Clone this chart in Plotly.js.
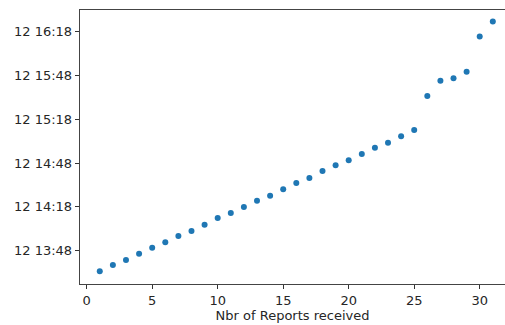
<!DOCTYPE html>
<html>
<head>
<meta charset="utf-8">
<script src="https://cdn.plot.ly/plotly-3.0.1.min.js"></script>
<style>
  html, body { margin: 0; padding: 0; background: #fff; }
  #chart { width: 505px; height: 325px; }
</style>
</head>
<body>
<div id="chart"></div>
<script>
// Report counter and the time each report arrived
const reportCount = [1, 2, 3, 4, 5, 6, 7, 8, 9, 10, 11, 12, 13, 14, 15, 16,
  17, 18, 19, 20, 21, 22, 23, 24, 25, 26, 27, 28, 29, 30, 31];
const receivedAt = [
  "2018-03-12 13:33:54", "2018-03-12 13:38:12", "2018-03-12 13:41:36", "2018-03-12 13:45:54",
  "2018-03-12 13:50:06", "2018-03-12 13:53:48", "2018-03-12 13:58:06", "2018-03-12 14:01:30",
  "2018-03-12 14:05:48", "2018-03-12 14:10:24", "2018-03-12 14:13:48", "2018-03-12 14:17:54",
  "2018-03-12 14:22:12", "2018-03-12 14:25:42", "2018-03-12 14:30:06", "2018-03-12 14:34:24",
  "2018-03-12 14:37:48", "2018-03-12 14:42:36", "2018-03-12 14:46:30", "2018-03-12 14:50:00",
  "2018-03-12 14:54:12", "2018-03-12 14:58:30", "2018-03-12 15:02:00", "2018-03-12 15:06:24",
  "2018-03-12 15:10:42", "2018-03-12 15:34:00", "2018-03-12 15:44:24", "2018-03-12 15:46:06",
  "2018-03-12 15:50:36", "2018-03-12 16:14:48", "2018-03-12 16:25:06"
];
const xTickVals = [0, 5, 10, 15, 20, 25, 30];
const yTickVals = [
  "2018-03-12 13:48", "2018-03-12 14:18", "2018-03-12 14:48",
  "2018-03-12 15:18", "2018-03-12 15:48", "2018-03-12 16:18"
];
const xTitle = "Nbr of Reports received";

const font = { family: "DejaVu Sans, sans-serif", size: 13, color: "#262626" };

const trace = {
  x: reportCount,
  y: receivedAt,
  type: "scatter",
  mode: "markers",
  marker: { color: "#1f77b4", size: 6 },
  hoverinfo: "x+y"
};

const layout = {
  width: 505,
  height: 325,
  margin: { l: 80, r: 0, t: 10, b: 41 },
  paper_bgcolor: "#fff",
  plot_bgcolor: "#fff",
  font: font,
  showlegend: false,
  xaxis: {
    range: [-0.51, 31.93],
    tickvals: xTickVals,
    ticks: "outside",
    ticklen: 4,
    tickwidth: 1,
    tickcolor: "#333",
    showgrid: false,
    zeroline: false,
    showline: true,
    linecolor: "#444",
    linewidth: 1.3,
    mirror: true,
    tickfont: font,
    title: { text: xTitle, font: font, standoff: 4 }
  },
  yaxis: {
    type: "date",
    range: ["2018-03-12 13:25:12", "2018-03-12 16:32:54"],
    tickvals: yTickVals,
    tickformat: "%d %H:%M",
    ticks: "outside",
    ticklen: 4,
    tickwidth: 1,
    tickcolor: "#333",
    showgrid: false,
    zeroline: false,
    showline: true,
    linecolor: "#444",
    linewidth: 1.3,
    tickfont: font
  }
};

Plotly.newPlot("chart", [trace], layout, { staticPlot: true, displayModeBar: false });
</script>
</body>
</html>
